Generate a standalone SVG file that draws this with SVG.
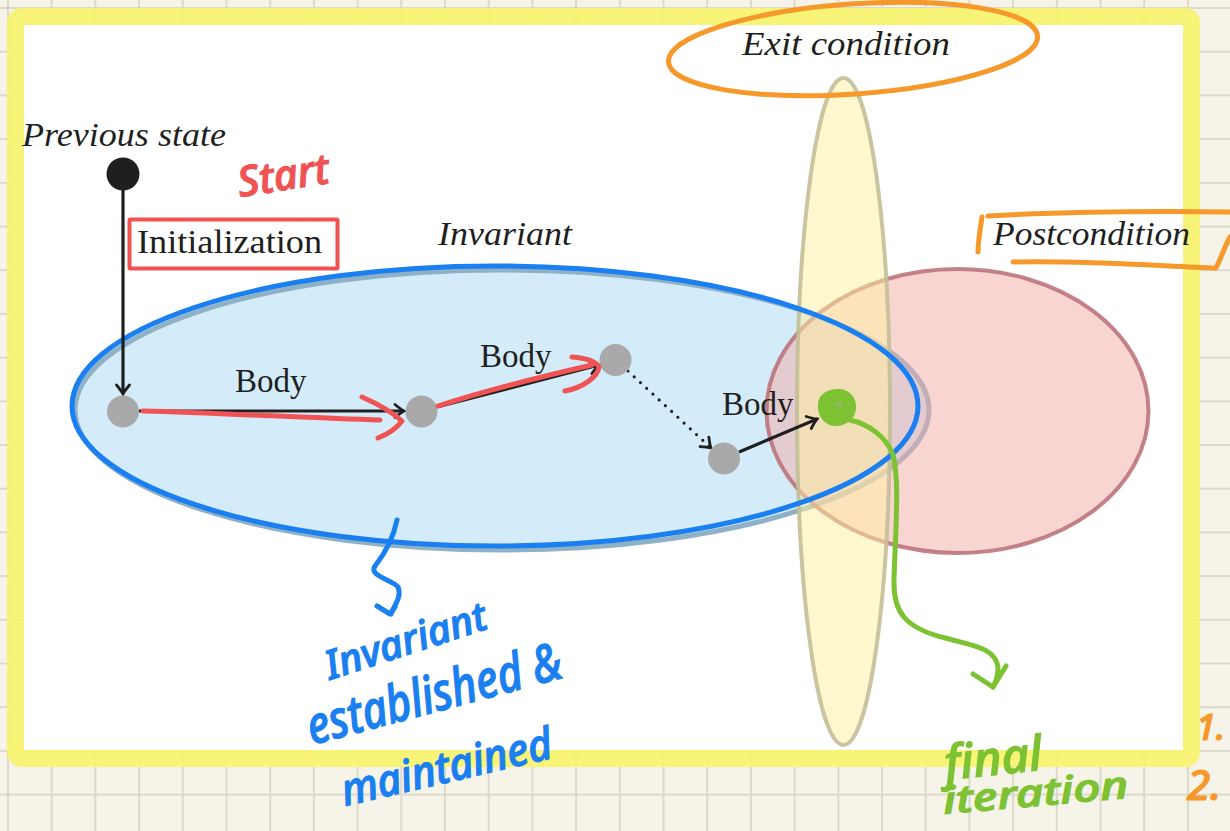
<svg xmlns="http://www.w3.org/2000/svg" width="1230" height="831" viewBox="0 0 1230 831">
  <style>
    .serif { font-family: "Liberation Serif", "DejaVu Serif", serif; fill: #1f1f1f; font-size: 33px; }
    .it { font-style: italic; }
    .node { fill: #a9a9a9; }
    .edge { stroke: #1f1f1f; stroke-width: 3.2; fill: none; }
    .hand { fill: none; stroke-linecap: round; stroke-linejoin: round; stroke-width: 5; }
    .htext { font-family: "Noto Sans", "DejaVu Sans", sans-serif; font-style: italic; font-weight: 500; stroke-width: 1.2; }
  </style>
  <defs>
    <pattern id="grid" x="7" y="7" width="43.7" height="43.7" patternUnits="userSpaceOnUse">
      <path d="M1 0V43.7M0 1H43.7" stroke="#dcd9cc" stroke-width="2" fill="none"/>
    </pattern>
    <marker id="tip" viewBox="-12 -8 14 16" refX="0" refY="0" markerWidth="14" markerHeight="16" markerUnits="userSpaceOnUse" orient="auto">
      <path d="M-9,-6.5 Q-3,-1.5 0,0 Q-3,1.5 -9,6.5" fill="none" stroke="#1f1f1f" stroke-width="2.8" stroke-linecap="round"/>
    </marker>
  </defs>

  <!-- paper -->
  <rect width="1230" height="831" fill="#f6f4e9"/>
  <rect width="1230" height="831" fill="url(#grid)"/>

  <!-- page area with highlighter frame -->
  <rect x="24" y="25" width="1160" height="725" fill="#ffffff"/>
  <rect x="15.5" y="16.5" width="1176" height="742" rx="6" fill="none" stroke="#f8f46a" stroke-opacity="0.9" stroke-width="17"/>

  <!-- regions -->
  <g id="invariant-region">
    <ellipse cx="502" cy="410" rx="427" ry="140" fill="#a9d8f4" fill-opacity="0.5" stroke="#8fb1c6" stroke-width="5"/>
  </g>
  <g id="postcondition-region">
    <ellipse cx="957.5" cy="411" rx="191" ry="142" fill="#f3aca6" fill-opacity="0.5" stroke="#b86f76" stroke-opacity="0.85" stroke-width="4"/>
  </g>
  <g id="exit-region">
    <ellipse cx="843.5" cy="411.5" rx="46.5" ry="333.5" fill="#fff1a0" fill-opacity="0.5" stroke="#c3bf98" stroke-opacity="0.9" stroke-width="4"/>
  </g>
  <!-- hand-drawn outline of the invariant -->
  <ellipse cx="495" cy="406" rx="423" ry="140" fill="none" stroke="#1a7ff0" stroke-width="5"/>

  <!-- labels -->
  <g id="labels">
    <text class="serif it" x="22" y="146" textLength="204" lengthAdjust="spacingAndGlyphs">Previous state</text>
    <text class="serif it" x="438" y="245" textLength="134" lengthAdjust="spacingAndGlyphs">Invariant</text>
    <text class="serif it" x="742" y="55" textLength="208" lengthAdjust="spacingAndGlyphs">Exit condition</text>
    <text class="serif it" x="993" y="245" textLength="197" lengthAdjust="spacingAndGlyphs">Postcondition</text>
  </g>

  <!-- connectors -->
  <g id="connectors">
    <line class="edge" x1="123" y1="180" x2="123" y2="394" marker-end="url(#tip)"/>
    <line class="edge" x1="139" y1="411" x2="404" y2="411" marker-end="url(#tip)"/>
    <line class="edge" x1="437" y1="407" x2="599" y2="365" marker-end="url(#tip)"/>
    <line class="edge" x1="628" y1="371" x2="711" y2="448" stroke-dasharray="0 8.5" stroke-linecap="round" stroke-width="3.8" marker-end="url(#tip)"/>
    <line class="edge" x1="739" y1="452" x2="817" y2="419" marker-end="url(#tip)"/>
    <text class="serif" x="235" y="392">Body</text>
    <text class="serif" x="480" y="367">Body</text>
    <text class="serif" x="722" y="415">Body</text>
  </g>

  <!-- states -->
  <g id="previous-state"><circle cx="123" cy="174" r="16.5" fill="#1f1f1f"/></g>
  <g id="initialization">
    <rect x="129.5" y="219.5" width="208" height="49" fill="#ffffff" stroke="#f05252" stroke-width="4" rx="1"/>
    <text class="serif" x="137" y="253" textLength="185" lengthAdjust="spacingAndGlyphs">Initialization</text>
  </g>
  <g id="state-0"><circle class="node" cx="123" cy="411.5" r="16"/></g>
  <g id="state-1"><circle class="node" cx="421.5" cy="411.5" r="16"/></g>
  <g id="state-2"><circle class="node" cx="615.5" cy="360" r="16"/></g>
  <g id="state-3"><circle class="node" cx="724" cy="458.5" r="16"/></g>
  <g id="state-final">
    <circle class="node" cx="837" cy="408" r="16"/>
    <path d="M818,404 C818,394 829,388 840,389 C851,390 857,399 856,409 C855,419 846,426 836,426 C824,426 817,415 818,404 Z" fill="#7cc232"/>
    <path d="M836,406 l3,-4 M840,407 l1,-4" stroke="#a9a9a9" stroke-width="1.5"/>
  </g>

  <!-- red pen -->
  <g id="red-notes" stroke="#f05353" class="hand">
    <path d="M143,411 C220,413 310,418 380,420"/>
    <path d="M362,397 C378,404 392,412 402,421 C396,429 388,434 378,438"/>
    <path d="M438,406 C480,392 540,377 592,365"/>
    <path d="M572,357 C584,358 596,361 599,367 C598,377 582,388 565,391"/>
  </g>
  <text class="htext" x="240" y="197" font-size="42" fill="#f05353" stroke="#f05353" transform="rotate(-9 240 197)" textLength="92" lengthAdjust="spacingAndGlyphs">Start</text>

  <!-- orange pen -->
  <g id="orange-notes" stroke="#f5992a" class="hand">
    <ellipse cx="853" cy="49" rx="185" ry="45" transform="rotate(-4 853 49)"/>
    <path d="M982,217 C980,230 978,242 978,252"/>
    <path d="M988,216 C1060,212 1150,211 1230,212"/>
    <path d="M1013,262 C1080,260 1160,266 1216,268 C1221,258 1225,246 1230,237"/>
  </g>
  <text class="htext" x="1196" y="740" font-size="36" fill="#f5992a" stroke="#f5992a">1.</text>
  <text class="htext" x="1187" y="800" font-size="42" fill="#f5992a" stroke="#f5992a">2.</text>

  <!-- blue pen -->
  <g id="blue-notes" stroke="#1a7ff0" class="hand">
    <path d="M397,520 C394,535 386,552 375,566 C368,576 393,580 398,587 C402,596 395,604 391,614"/>
    <path d="M377,606 L390,614 L395,607"/>
  </g>
  <text class="htext" x="330" y="680" font-size="40" fill="#1a7ff0" stroke="#1a7ff0" transform="rotate(-18 330 680)" textLength="168" lengthAdjust="spacingAndGlyphs">Invariant</text>
  <text class="htext" x="312" y="745" font-size="52" fill="#1a7ff0" stroke="#1a7ff0" transform="rotate(-15 312 745)" textLength="262" lengthAdjust="spacingAndGlyphs">established &amp;</text>
  <text class="htext" x="345" y="806" font-size="44" fill="#1a7ff0" stroke="#1a7ff0" transform="rotate(-13 345 806)" textLength="215" lengthAdjust="spacingAndGlyphs">maintained</text>

  <!-- green pen -->
  <g id="green-notes" stroke="#7cc232" class="hand">
    <path d="M850,420 C868,424 886,436 893,455 C900,480 895,540 894,580 C893,612 905,628 945,638 C975,646 995,648 998,667 C998,676 996,682 993,687"/>
    <path d="M973,674 L993,687 L1006,666"/>
  </g>
  <text class="htext" x="946" y="780" font-size="48" fill="#7cc232" stroke="#7cc232" transform="rotate(-6 946 780)" textLength="98" lengthAdjust="spacingAndGlyphs">final</text>
  <text class="htext" x="944" y="814" font-size="38" fill="#7cc232" stroke="#7cc232" transform="rotate(-5 944 814)" textLength="186" lengthAdjust="spacingAndGlyphs">iteration</text>
</svg>
